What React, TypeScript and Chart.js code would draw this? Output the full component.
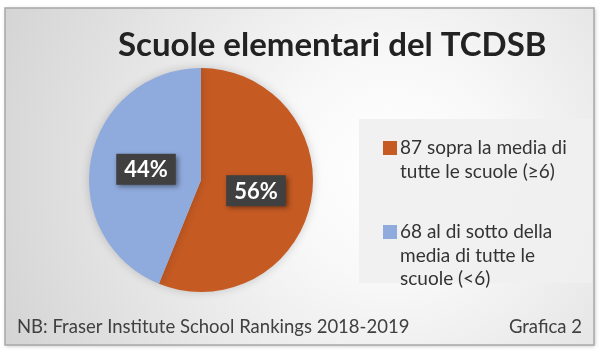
import React, { useEffect, useRef } from "react";
import { Chart, registerables } from "chart.js";

Chart.register(...registerables);

const TITLE = "Scuole elementari del TCDSB";
const CATEGORIES = [
  ["87 sopra la media di", "tutte le scuole (≥6)"],
  ["68 al di sotto della", "media di tutte le", "scuole (<6)"],
];
const COUNTS = [87, 68];
const COLORS = ["#C55A23", "#8FAADC"];
const FOOTNOTE = "NB: Fraser Institute School Rankings 2018-2019";
const CHART_NO = "Grafica 2";

const FONT = "Lato, 'Open Sans', sans-serif";

const decorPlugin = {
  id: "decor",
  beforeDraw(chart: any) {
    const ctx = chart.ctx as CanvasRenderingContext2D;
    ctx.save();
    ctx.shadowColor = "rgba(0,0,0,0.25)";
    ctx.shadowBlur = 4;
    ctx.shadowOffsetX = 1;
    ctx.shadowOffsetY = 1;
    ctx.fillStyle = "#dcdcdc";
    ctx.fillRect(5, 8, 589, 337);
    ctx.restore();
    ctx.save();
    const g = ctx.createRadialGradient(390, 170, 10, 390, 170, 420);
    g.addColorStop(0, "#ffffff");
    g.addColorStop(0.25, "#f8f8f8");
    g.addColorStop(0.7, "#e2e2e2");
    g.addColorStop(1, "#d4d4d4");
    ctx.fillStyle = g;
    ctx.fillRect(5, 8, 589, 337);
    ctx.strokeStyle = "#a8a8a8";
    ctx.lineWidth = 1.5;
    ctx.strokeRect(5, 8, 589, 337);

    // title
    ctx.fillStyle = "#222222";
    ctx.font = `bold 33px ${FONT}`;
    ctx.textBaseline = "middle";
    ctx.textAlign = "left";
    ctx.fillText(TITLE, 118, 45);

    // legend box
    ctx.fillStyle = "rgba(240,240,240,0.9)";
    ctx.fillRect(359, 119, 233, 164);

    const ds = chart.data.datasets[0];
    const labels = chart.data.labels as string[][];
    const starts = [148, 232];
    ctx.font = `19px ${FONT}`;
    labels.forEach((lines, i) => {
      const y0 = starts[i];
      ctx.fillStyle = ds.backgroundColor[i];
      ctx.fillRect(383, y0 - 7, 14, 14);
      ctx.fillStyle = "#333333";
      lines.forEach((ln, j) => {
        ctx.fillText(ln, 400, y0 + j * 23.5);
      });
    });

    // footer
    ctx.font = `18.5px ${FONT}`;
    ctx.fillStyle = "#404040";
    ctx.fillText(FOOTNOTE, 17, 327);
    ctx.textAlign = "right";
    ctx.fillText(CHART_NO, 582, 327);
    ctx.restore();
  },
  beforeDatasetsDraw(chart: any) {
    const ctx = chart.ctx as CanvasRenderingContext2D;
    ctx.save();
    ctx.shadowColor = "rgba(0,0,0,0.18)";
    ctx.shadowBlur = 10;
  },
  afterDatasetsDraw(chart: any) {
    const ctx = chart.ctx as CanvasRenderingContext2D;
    ctx.restore();
    const meta = chart.getDatasetMeta(0);
    const data = chart.data.datasets[0].data as number[];
    const total = data.reduce((a, b) => a + b, 0);
    ctx.save();
    ctx.font = `bold 22px ${FONT}`;
    ctx.textAlign = "center";
    ctx.textBaseline = "middle";
    meta.data.forEach((arc: any, i: number) => {
      const p = arc.tooltipPosition();
      const txt = Math.round((data[i] / total) * 100) + "%";
      const w = ctx.measureText(txt).width + 16;
      const h = 31;
      ctx.save();
      ctx.shadowColor = "rgba(0,0,0,0.45)";
      ctx.shadowBlur = 5;
      ctx.shadowOffsetX = 2;
      ctx.shadowOffsetY = 2;
      ctx.fillStyle = "#404040";
      ctx.fillRect(p.x - w / 2, p.y - h / 2, w, h);
      ctx.restore();
      ctx.fillStyle = "#ffffff";
      ctx.fillText(txt, p.x, p.y + 1);
    });
    ctx.restore();
  },
};

export default function App() {
  const ref = useRef<HTMLCanvasElement>(null);
  useEffect(() => {
    const chart = new Chart(ref.current!, {
      type: "pie",
      data: {
        labels: CATEGORIES as any,
        datasets: [
          {
            data: COUNTS,
            backgroundColor: COLORS,
            borderWidth: 0,
          },
        ],
      },
      options: {
        animation: false,
        responsive: false,
        events: [],
        layout: { padding: { left: 89, right: 287, top: 68, bottom: 61 } },
        plugins: {
          legend: { display: false },
          tooltip: { enabled: false },
          title: { display: false },
        },
      },
      plugins: [decorPlugin],
    });
    return () => chart.destroy();
  }, []);
  return (
    <div style={{ position: "fixed", left: 0, top: 0, width: 600, height: 353, background: "#fff" }}>
      <canvas ref={ref} width={600} height={353} style={{ width: 600, height: 353 }} />
    </div>
  );
}
